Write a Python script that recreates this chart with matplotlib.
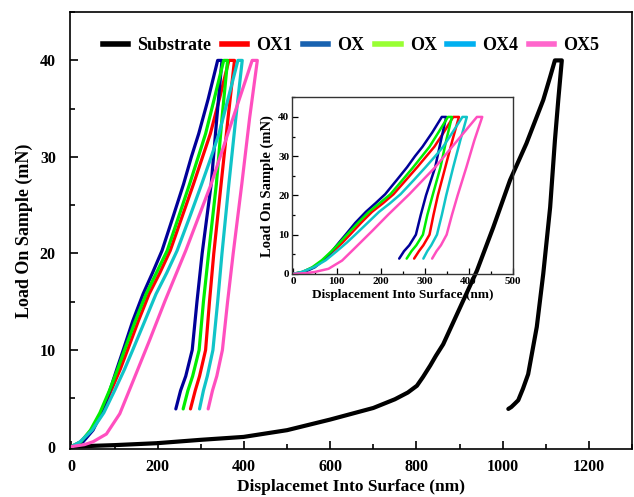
import matplotlib
matplotlib.use("Agg")
import matplotlib.pyplot as plt
from matplotlib.lines import Line2D
from matplotlib.ticker import MultipleLocator

plt.rcParams['font.family'] = ['Liberation Serif', 'DejaVu Serif']
plt.rcParams['font.weight'] = 'bold'
plt.rcParams['axes.labelweight'] = 'bold'

# ---- data (depth in nm, load in mN) ----
sub_load_h = [0, 100, 198, 300, 399, 500, 600, 700, 750, 780, 801, 815, 832, 845, 862,
              901, 940, 978, 1017, 1055, 1094, 1110, 1121]
sub_load_p = [0, 0.15, 0.35, 0.7, 1.0, 1.7, 2.8, 4.0, 4.9, 5.6, 6.3, 7.2, 8.4, 9.4, 10.6,
              14.4, 18.2, 22.7, 27.6, 31.4, 35.9, 38.3, 40]
sub_unload_h = [1137, 1129, 1121, 1110, 1094, 1079, 1059, 1047, 1036, 1027, 1020, 1013]
sub_unload_p = [40, 36, 31.7, 24.8, 17.9, 12.4, 7.5, 6.0, 4.8, 4.4, 4.1, 3.9]

ox_load_p = [0, 0.5, 1.7, 3.5, 5.8, 8, 10, 13, 15.8, 18, 20.3, 24, 27.2, 30, 32.4, 36, 40]
ox_unload_p = [40, 34, 27.2, 20, 15, 10, 7.3, 5.8, 3.9]

navy_load = [0, 27, 50, 70, 89, 105, 120, 142, 166, 188, 210, 237, 260, 278, 295, 317, 339]
navy_unload = [349, 337, 324, 303, 291, 280, 265, 253, 242]
green_load = [0, 22, 44, 66, 88, 107, 123, 148, 173, 197, 222, 250, 274, 294, 311, 331, 353]
green_unload = [362, 349, 336, 318, 306, 296, 281, 270, 259]
red_load = [0, 22, 46, 70, 92, 113, 130, 155, 180, 205, 229, 258, 283, 304, 322, 343, 365]
red_unload = [378, 363, 347, 330, 320, 311, 297, 287, 276]
cyan_load = [0, 20, 48, 75, 100, 123, 142, 170, 196, 221, 245, 276, 302, 324, 342, 363, 386]
cyan_unload = [396, 381, 365, 349, 339, 328, 315, 306, 297]

pink_load_p = [0, 0.2, 0.5, 1.3, 3.4, 6.8, 11, 15.1, 20.3, 27.2, 33, 40]
pink_load = [0, 30, 50, 81, 112, 143, 181, 217, 265, 324, 367, 419]
pink_unload = [431, 413, 395, 375, 362, 350, 337, 327, 317]

# curve colours and legend (legend colours differ from the curves in the original)
curve_colors = {'navy': '#000099', 'green': '#00ee00', 'red': '#ff0000',
                'cyan': '#10c4c8', 'pink': '#ff4fbf'}
legend_labels = ['Substrate', 'OX1', 'OX', 'OX', 'OX4', 'OX5']
legend_colors = ['#000000', '#ff0000', '#1862b0', '#99ff33', '#00b0f0', '#ff66cc']


def curves():
    ox = [
        ('red', red_load, ox_load_p, red_unload, ox_unload_p),
        ('navy', navy_load, ox_load_p, navy_unload, ox_unload_p),
        ('green', green_load, ox_load_p, green_unload, ox_unload_p),
        ('cyan', cyan_load, ox_load_p, cyan_unload, ox_unload_p),
        ('pink', pink_load, pink_load_p, pink_unload, ox_unload_p),
    ]
    out = []
    for name, lh, lp, uh, up in ox:
        out.append((name, list(lh) + list(uh), list(lp) + list(up)))
    return out


fig = plt.figure(figsize=(6.34, 4.97), dpi=100)
ax = fig.add_axes([0.110, 0.0966, 0.887, 0.879])

ax.plot(sub_load_h + sub_unload_h, sub_load_p + sub_unload_p, color='black',
        lw=3.0, solid_joinstyle='round', solid_capstyle='round')
for name, h, p in curves():
    ax.plot(h, p, color=curve_colors[name], lw=2.3, solid_joinstyle='round',
            solid_capstyle='round')

ax.set_xlim(-4, 1300)
ax.set_ylim(-0.25, 45)
ax.xaxis.set_major_locator(MultipleLocator(200))
ax.xaxis.set_minor_locator(MultipleLocator(100))
ax.yaxis.set_major_locator(MultipleLocator(10))
ax.yaxis.set_minor_locator(MultipleLocator(5))
ax.tick_params(which='both', direction='in', labelsize=11.5, width=1.2)
ax.tick_params(which='major', length=6)
ax.tick_params(which='minor', length=3.5)
ax.tick_params(axis='x', pad=7)
ax.tick_params(axis='y', pad=10)
for s in ax.spines.values():
    s.set_linewidth(1.2)
ax.set_xlabel('Displacemet Into Surface (nm)', fontsize=12.5, labelpad=3)
ax.set_ylabel('Load On Sample (mN)', fontsize=13, labelpad=5)

handles = [Line2D([], [], color=c, lw=4) for c in legend_colors]
ax.legend(handles, legend_labels, ncol=6, frameon=False, loc='upper center',
          bbox_to_anchor=(0.5, 0.98), fontsize=13, handlelength=1.4,
          handletextpad=0.5, columnspacing=0.6)

# inset
ins = fig.add_axes([0.4606, 0.4481, 0.3478, 0.3561])
ins.patch.set_alpha(0)
for name, h, p in curves():
    ins.plot(h, p, color=curve_colors[name], lw=1.8, solid_joinstyle='round',
             solid_capstyle='round')
ins.set_xlim(-2, 500)
ins.set_ylim(-0.1, 45)
ins.xaxis.set_major_locator(MultipleLocator(100))
ins.xaxis.set_minor_locator(MultipleLocator(50))
ins.yaxis.set_major_locator(MultipleLocator(10))
ins.yaxis.set_minor_locator(MultipleLocator(5))
ins.tick_params(which='both', direction='in', labelsize=8, width=0.9, pad=2)
ins.tick_params(which='major', length=4)
ins.tick_params(which='minor', length=2.5)
for s in ins.spines.values():
    s.set_linewidth(1.0)
    s.set_color('#333333')
ins.set_xlabel('Displacement Into Surface (nm)', fontsize=9.5, labelpad=2)
ins.set_ylabel('Load On Sample (mN)', fontsize=10.5, labelpad=3)

fig.savefig('out.png', dpi=100)
